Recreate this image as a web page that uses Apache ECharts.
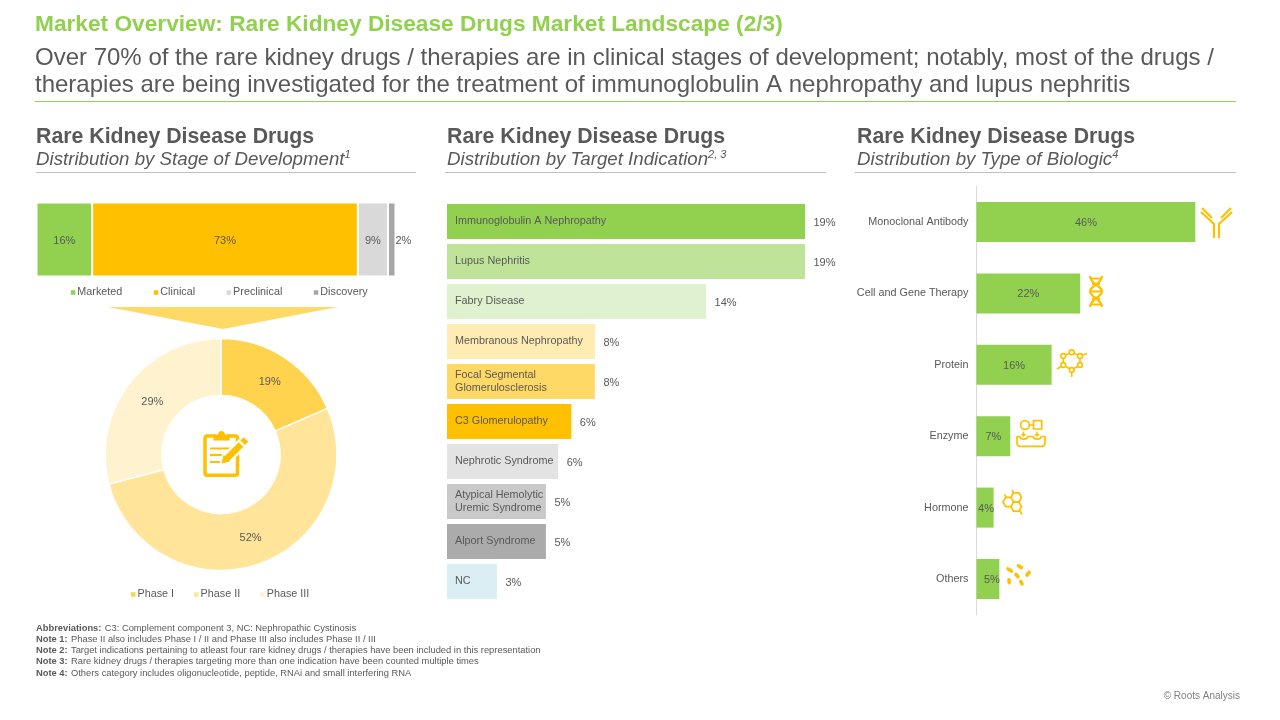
<!DOCTYPE html>
<html><head><meta charset="utf-8">
<style>html,body{margin:0;padding:0;background:#fff}#c{width:1280px;height:720px}</style>
<script src="https://cdn.jsdelivr.net/npm/echarts@6/dist/echarts.min.js"></script>
</head><body><div id="c"></div>
<script>
const FONT = '"Liberation Sans", Arial, sans-serif';
const TXT = '#595959';

const stageNames = ['Marketed', 'Clinical', 'Preclinical', 'Discovery'];
const stageValues = [15.5, 74, 8.4, 2.1];
const stageLabels = ['16%', '73%', '9%', '2%'];
const stageColors = ['#92D050', '#FFC000', '#D9D9D9', '#A6A6A6'];

const phaseNames = ['Phase I', 'Phase II', 'Phase III'];
const phaseValues = [18.5, 52.4, 29.1];
const phaseColors = ['#FFD34E', '#FFE49A', '#FFF2CF'];

const indicationNames = ['Immunoglobulin A Nephropathy', 'Lupus Nephritis', 'Fabry Disease', 'Membranous Nephropathy',
  'Focal Segmental\nGlomerulosclerosis', 'C3 Glomerulopathy', 'Nephrotic Syndrome',
  'Atypical Hemolytic\nUremic Syndrome', 'Alport Syndrome', 'NC'];
const indicationValues = [19, 19, 13.75, 7.85, 7.85, 6.6, 5.9, 5.25, 5.25, 2.65];
const indicationLabels = ['19%', '19%', '14%', '8%', '8%', '6%', '6%', '5%', '5%', '3%'];
const indicationColors = ['#92D050', '#BFE398', '#DFF1CE', '#FFECB3', '#FFD966', '#FFC000', '#E3E3E3', '#C9C9C9', '#ABABAB', '#DAEEF3'];

const biologicNames = ['Monoclonal Antibody', 'Cell and Gene Therapy', 'Protein', 'Enzyme', 'Hormone', 'Others'];
const biologicValues = [46, 21.8, 15.8, 7.1, 3.6, 4.8];
const biologicLabels = ['46%', '22%', '16%', '7%', '4%', '5%'];

const titleText = 'Market Overview: Rare Kidney Disease Drugs Market Landscape (2/3)';
const subtitleLines = ['Over 70% of the rare kidney drugs / therapies are in clinical stages of development; notably, most of the drugs /',
  'therapies are being investigated for the treatment of immunoglobulin A nephropathy and lupus nephritis'];
const panelHeading = 'Rare Kidney Disease Drugs';
const panelSubs = [['Distribution by Stage of Development', '1'], ['Distribution by Target Indication', '2, 3'], ['Distribution by Type of Biologic', '4']];
const notes = [['Abbreviations:', 'C3: Complement component 3, NC: Nephropathic Cystinosis'],
  ['Note 1:', 'Phase II also includes Phase I / II and Phase III also includes Phase II / III'],
  ['Note 2:', 'Target indications pertaining to atleast four rare kidney drugs / therapies have been included in this representation'],
  ['Note 3:', 'Rare kidney drugs / therapies targeting more than one indication have been counted multiple times'],
  ['Note 4:', 'Others category includes oligonucleotide, peptide, RNAi and small interfering RNA']];
const copyright = '© Roots Analysis';

const graphics = [];
const iconShapes = [];
function text(x, y, t, size, fill, extra) {
  graphics.push({ type: 'text', x, y, silent: true, z: 20, style: Object.assign({ text: t, fontFamily: FONT, fontSize: size, fill, verticalAlign: 'middle' }, extra || {}) });
}
function line(x1, y1, x2, y2, stroke, w) {
  graphics.push({ type: 'line', silent: true, shape: { x1, y1, x2, y2 }, style: { stroke, lineWidth: w } });
}
const ICON = '#FFC000';
function path(d, w, extra) {
  iconShapes.push({ type: 'path', shape: { pathData: d }, style: Object.assign({ fill: 'none', stroke: ICON, lineWidth: w, lineJoin: 'round' }, extra || {}) });
}
function ring(cx, cy, r, w) {
  iconShapes.push({ type: 'circle', shape: { cx, cy, r }, style: { fill: '#fff', stroke: ICON, lineWidth: w } });
}

text(35, 25, titleText, 22.7, '#92D050', { fontWeight: 'bold' });
text(35, 58, subtitleLines[0], 24, TXT);
text(35, 85, subtitleLines[1], 24, TXT);
line(35, 101.5, 1236, 101.5, '#92D050', 1);
[[36, 36, 416], [447, 445, 826], [857, 855, 1236]].forEach((p, i) => {
  text(p[0], 137, panelHeading, 21.3, TXT, { fontWeight: 'bold' });
  graphics.push({ type: 'text', x: p[0], y: 160, z: 20, silent: true, style: {
    text: '{i|' + panelSubs[i][0] + '}{s|' + panelSubs[i][1] + '}', verticalAlign: 'middle',
    rich: { i: { fontFamily: FONT, fontSize: 18.7, fontStyle: 'italic', fill: TXT, lineHeight: 22 },
            s: { fontFamily: FONT, fontSize: 11, fontStyle: 'italic', fill: TXT, verticalAlign: 'top', lineHeight: 22 } } } });
  line(p[1], 172.5, p[2], 172.5, '#BFBFBF', 1);
});
notes.forEach((n, i) => {
  graphics.push({ type: 'text', x: 36, y: 628 + i * 11.25, z: 20, silent: true, style: {
    text: '{b|' + n[0] + '} {r|' + n[1] + '}', verticalAlign: 'middle',
    rich: { b: { fontFamily: FONT, fontSize: 9.35, fontWeight: 'bold', fill: TXT }, r: { fontFamily: FONT, fontSize: 9.35, fill: TXT } } } });
});
text(1240, 696, copyright, 10, '#7F7F7F', { align: 'right' });

// funnel connector
graphics.push({ type: 'polygon', silent: true, shape: { points: [[108, 307], [338, 307], [223, 329]] }, style: { fill: '#FFD966' } });

// clipboard
path('M216 436 H207 Q205 436 205 438.5 V473 Q205 475.2 207 475.2 H235.5 Q237.5 475.2 237.5 473 V438.5 Q237.5 436 235.5 436 H227', 3.5);
path('M213.5 440.5 V434.5 H218 Q218.5 431 221.5 431 Q224.5 431 225 434.5 H229.5 V440.5 Z', 0.1, { fill: ICON });
path('M210 448.5 H231 M210 455 H222 M210 462 H220', 2.2);
path('M225 460 L246 440', 11, { stroke: '#fff' });
path('M226 459.5 L241 444.5', 6.5);
path('M242.7 442.8 L246 439.5', 6.5);
path('M222 463 L224 455.5 L229.5 461 Z', 1, { fill: ICON });

// antibody
path('M1202 208 L1212 218 M1201 212 L1214 224 V238 M1231 208 L1221 218 M1232 212 L1219 224 V238', 2.2);
// DNA
path('M1090 276 C1090 284 1102 286 1102 291.5 C1102 297 1090 299 1090 307 M1102 276 C1102 284 1090 286 1090 291.5 C1090 297 1102 299 1102 307', 2.3);
path('M1090 278.5 H1102 M1092 284 H1100 M1091 291.5 H1101 M1092 299 H1100 M1090 304.5 H1102', 1.8);
// protein
path('M1071.7 352.3 L1080 356 V365 L1071.7 370 L1063.3 365 V356 Z M1080 356 L1087 353.5 M1063.3 365 L1057 369 M1071.7 370 V377', 1.6);
[[1071.7, 352.3], [1063.3, 356], [1080, 356], [1063.3, 365], [1080, 365], [1071.7, 370]].forEach(c => ring(c[0], c[1], 2.4, 1.6));
// enzyme
path('M1029.5 425 H1033.5 M1033.5 420.7 H1041.7 V429 H1033.5 Z', 1.7);
ring(1025, 425, 4.4, 1.7);
path('M1017 436.5 H1019.5 C1020.5 440 1027 440 1028 436.5 H1033 C1034 440 1040.5 440 1041.5 436.5 H1045 V443 Q1045 446.3 1042 446.3 H1020 Q1017 446.3 1017 443 Z', 1.7);
path('M1023.5 431.5 V436 M1021.5 434 L1023.5 436 L1025.5 434 M1037 431.5 V436 M1035 434 L1037 436 L1039 434', 1.4);
// hormone
function hex(cx, cy, r) {
  const h = r * 0.866;
  return `M${cx - r} ${cy} L${cx - r / 2} ${cy - h} L${cx + r / 2} ${cy - h} L${cx + r} ${cy} L${cx + r / 2} ${cy + h} L${cx - r / 2} ${cy + h} Z `;
}
path(hex(1008.3, 502, 5.3) + hex(1016.2, 497.4, 5.3) + hex(1016.2, 506.6, 5.3) + 'M1012 490 L1014 493 M1004.5 494.5 L1006.5 497.5 M1020 511 L1022 514.5', 1.8);
// others
path('M1008 569 L1011.5 571 M1016 574.5 L1018 576.7 M1018.5 565.8 L1021.5 567.6 M1029.2 572.3 L1027 575 M1009 579.8 L1009.2 582.6 M1020.8 581.5 L1022 583.8', 3.6, { lineCap: 'round' });

const hiddenVal = { type: 'value', show: false, min: 0, splitLine: { show: false } };
const hiddenCat = { type: 'category', show: false };
const pieOffsets = [[-1, 3], [0, -2], [3, 3]];

const option = {
  animation: false,
  textStyle: { fontFamily: FONT },
  grid: [
    { left: 36.5, top: 203, width: 359, height: 73 },
    { left: 447, top: 201.5, width: 358, height: 400 },
    { left: 976.5, top: 186.3, width: 284, height: 428.4 }
  ],
  xAxis: [
    Object.assign({}, hiddenVal, { gridIndex: 0, max: 100 }),
    Object.assign({}, hiddenVal, { gridIndex: 1, max: 19 }),
    Object.assign({}, hiddenVal, { gridIndex: 2, max: 59.7 })
  ],
  yAxis: [
    Object.assign({}, hiddenCat, { gridIndex: 0, data: ['Stage'] }),
    { type: 'category', gridIndex: 1, inverse: true, data: indicationNames, z: 10,
      axisLine: { show: false }, axisTick: { show: false },
      axisLabel: { inside: true, margin: 8, fontSize: 10.8, color: TXT, lineHeight: 13, fontFamily: FONT } },
    { type: 'category', gridIndex: 2, inverse: true, data: biologicNames,
      axisLine: { show: true, lineStyle: { color: '#D9D9D9', width: 1 } }, axisTick: { show: false },
      axisLabel: { margin: 8, fontSize: 10.8, color: TXT, fontFamily: FONT } }
  ],
  legend: [
    { data: stageNames, left: 68.8, top: 287, padding: 0, icon: 'rect', itemWidth: 6.5, itemHeight: 6.5, itemGap: 29.5, selectedMode: false,
      textStyle: { fontSize: 10.8, color: TXT, fontFamily: FONT, padding: [0, 0, 0, -4] } },
    { data: phaseNames, left: 129, top: 589, padding: 0, icon: 'rect', itemWidth: 6.5, itemHeight: 6.5, itemGap: 18, selectedMode: false,
      textStyle: { fontSize: 10.8, color: TXT, fontFamily: FONT, padding: [0, 0, 0, -4] } }
  ],
  series: [
    ...stageNames.map((name, i) => ({
      type: 'bar', name, xAxisIndex: 0, yAxisIndex: 0, stack: 'stage', barWidth: 74, silent: true,
      data: [stageValues[i]],
      itemStyle: { color: stageColors[i], borderColor: '#fff', borderWidth: 1 },
      label: { show: true, position: i === 3 ? 'right' : 'inside', distance: 0, offset: [0, 1.5], formatter: stageLabels[i], fontSize: 11, color: TXT, fontFamily: FONT }
    })),
    { type: 'pie', silent: true, center: [221, 454.5], radius: [59, 116], startAngle: 90,
      data: phaseNames.map((name, i) => ({ name, value: phaseValues[i], itemStyle: { color: phaseColors[i] }, label: { offset: pieOffsets[i] } })),
      itemStyle: { borderColor: '#fff', borderWidth: 1.5 },
      label: { show: true, position: 'inside', formatter: p => Math.round(p.value) + '%', fontSize: 11, color: TXT, fontFamily: FONT },
      labelLine: { show: false } },
    { type: 'bar', xAxisIndex: 1, yAxisIndex: 1, barWidth: 35, silent: true,
      data: indicationValues.map((value, i) => ({ value, itemStyle: { color: indicationColors[i] } })),
      label: { show: true, position: 'right', distance: 8.5, offset: [0, 1], formatter: p => indicationLabels[p.dataIndex], fontSize: 11, color: TXT, fontFamily: FONT } },
    { type: 'bar', xAxisIndex: 2, yAxisIndex: 2, barWidth: 40, silent: true,
      data: biologicValues.map((value, i) => ({ value, label: { offset: [i === 5 ? 4 : (i === 4 ? 1 : 0), 1] } })),
      itemStyle: { color: '#92D050' },
      label: { show: true, position: 'inside', formatter: p => biologicLabels[p.dataIndex], fontSize: 11, color: TXT, fontFamily: FONT } },
    { type: 'custom', coordinateSystem: 'none', silent: true, z: 12, data: [0],
      renderItem: () => ({ type: 'group', children: iconShapes }) }
  ],
  graphic: { elements: graphics }
};
echarts.init(document.getElementById('c')).setOption(option);
</script></body></html>
